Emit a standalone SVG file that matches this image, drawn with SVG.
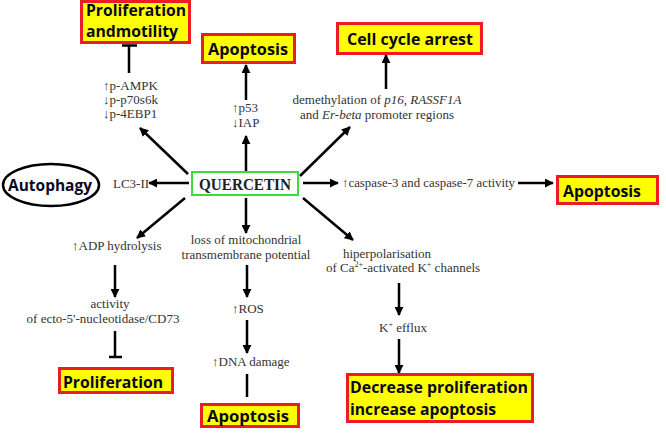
<svg xmlns="http://www.w3.org/2000/svg" width="666" height="433" viewBox="0 0 666 433">
<style>
.box{fill:#FFFF00;stroke:#EC1C24;stroke-width:3}
.bt{font-family:"Open Sans","Liberation Sans",sans-serif;font-weight:bold;font-size:16px;fill:#0a0a1e}
.st{font-family:"Liberation Serif","Times New Roman",serif;font-size:13px;fill:#333}
.ln{stroke:#000;stroke-width:2.5;fill:none}
.ar{stroke:#000;stroke-width:2.5;fill:none;marker-end:url(#ah)}
</style>
<defs>
<marker id="ah" viewBox="0 0 10 10" refX="9" refY="5" markerUnits="userSpaceOnUse" markerWidth="9" markerHeight="9" orient="auto">
<path d="M0,0 L10,5 L0,10 Z" fill="#000"/>
</marker>
</defs>
<rect width="666" height="433" fill="#fff"/>

<g id="connectors">
<line class="ar" x1="188" y1="174" x2="140" y2="128"/>
<line class="ln" x1="129" y1="73" x2="129" y2="46"/>
<line class="ln" x1="122" y1="45.5" x2="137" y2="45.5"/>
<line class="ar" x1="246" y1="171" x2="246" y2="136"/>
<line class="ar" x1="246" y1="100" x2="246" y2="65"/>
<line class="ar" x1="300" y1="176" x2="350" y2="127"/>
<line class="ar" x1="386" y1="89" x2="386" y2="55"/>
<line class="ar" x1="189" y1="183" x2="149" y2="183"/>
<line class="ar" x1="185" y1="198" x2="137" y2="238"/>
<line class="ar" x1="115" y1="265" x2="115" y2="297"/>
<line class="ln" x1="115" y1="331" x2="115" y2="357"/>
<line class="ln" x1="109" y1="357" x2="122" y2="357"/>
<line class="ar" x1="246" y1="198" x2="246" y2="233"/>
<line class="ar" x1="247" y1="265" x2="247" y2="297"/>
<line class="ar" x1="247" y1="320" x2="247" y2="353"/>
<line class="ln" x1="247" y1="374" x2="247" y2="397"/>
<line class="ar" x1="303" y1="183" x2="338" y2="183"/>
<line class="ar" x1="518" y1="183" x2="553" y2="183"/>
<line class="ar" x1="303" y1="198" x2="353" y2="240"/>
<line class="ar" x1="399" y1="283" x2="399" y2="315"/>
<line class="ar" x1="399" y1="339" x2="399" y2="373"/>
</g>

<g id="quercetin">
<rect x="192" y="172" width="106" height="23" fill="#fff" stroke="#3ddc3d" stroke-width="2"/>
<text x="245" y="190" text-anchor="middle" font-family="Liberation Serif,serif" font-weight="bold" font-size="17" fill="#222" textLength="92" lengthAdjust="spacingAndGlyphs">QUERCETIN</text>
</g>

<g id="prolif-motility">
<rect class="box" x="81.5" y="1.5" width="108" height="41"/>
<text class="bt" x="86" y="16" font-size="13" textLength="100" lengthAdjust="spacingAndGlyphs">Proliferation</text>
<text class="bt" x="86" y="37" font-size="13" textLength="92" lengthAdjust="spacingAndGlyphs">andmotility</text>
</g>

<g id="ampk">
<text class="st" x="103" y="90">↑p-AMPK</text>
<text class="st" x="103" y="104">↓p-p70s6k</text>
<text class="st" x="103" y="118">↓p-4EBP1</text>
</g>

<g id="apoptosis-top">
<rect class="box" x="202.5" y="34.5" width="92" height="28"/>
<text class="bt" x="208" y="55" textLength="80" lengthAdjust="spacingAndGlyphs">Apoptosis</text>
</g>

<g id="p53">
<text class="st" x="232" y="112">↑p53</text>
<text class="st" x="232" y="127">↓IAP</text>
</g>

<g id="cell-cycle">
<rect class="box" x="337.5" y="23.5" width="144" height="30"/>
<text class="bt" x="347" y="45" textLength="126" lengthAdjust="spacingAndGlyphs">Cell cycle arrest</text>
</g>

<g id="demethylation">
<text class="st" x="377" y="104" text-anchor="middle">demethylation of <tspan font-style="italic">p16</tspan>, <tspan font-style="italic">RASSF1A</tspan></text>
<text class="st" x="377" y="119" text-anchor="middle">and <tspan font-style="italic">Er-beta</tspan> promoter regions</text>
</g>

<g id="autophagy">
<ellipse cx="51" cy="185" rx="48" ry="21" fill="#fff" stroke="#000" stroke-width="2.5"/>
<text class="bt" x="8" y="191" font-size="18" textLength="84" lengthAdjust="spacingAndGlyphs">Autophagy</text>
</g>

<g id="lc3">
<text class="st" x="113" y="188">LC3-II</text>
</g>

<g id="adp">
<text class="st" x="72" y="250">↑ADP hydrolysis</text>
</g>

<g id="cd73">
<text class="st" x="110" y="308" text-anchor="middle">activity</text>
<text class="st" x="103" y="323" text-anchor="middle">of ecto-5'-nucleotidase/CD73</text>
</g>

<g id="proliferation">
<rect class="box" x="59.5" y="368.5" width="113" height="24"/>
<text class="bt" x="63" y="388" textLength="100" lengthAdjust="spacingAndGlyphs">Proliferation</text>
</g>

<g id="mito">
<text class="st" x="246" y="244" text-anchor="middle">loss of mitochondrial</text>
<text class="st" x="246" y="259" text-anchor="middle">transmembrane potential</text>
</g>

<g id="ros">
<text class="st" x="232" y="313">↑ROS</text>
</g>

<g id="dna">
<text class="st" x="212" y="366">↑DNA damage</text>
</g>

<g id="apoptosis-bottom">
<rect class="box" x="201.5" y="404.5" width="97" height="22"/>
<text class="bt" x="207" y="422" textLength="82" lengthAdjust="spacingAndGlyphs">Apoptosis</text>
</g>

<g id="caspase">
<text class="st" x="342" y="187" textLength="173" lengthAdjust="spacingAndGlyphs">↑caspase-3 and caspase-7 activity</text>
</g>

<g id="apoptosis-right">
<rect class="box" x="557.5" y="176.5" width="100" height="27"/>
<text class="bt" x="563" y="197" textLength="78" lengthAdjust="spacingAndGlyphs">Apoptosis</text>
</g>

<g id="hiper">
<text class="st" x="387" y="258" text-anchor="middle">hiperpolarisation</text>
<text class="st" x="403" y="272" text-anchor="middle">of Ca<tspan font-size="8" dy="-5">2+</tspan><tspan dy="5">-activated K</tspan><tspan font-size="8" dy="-5">+</tspan><tspan dy="5"> channels</tspan></text>
</g>

<g id="efflux">
<text class="st" x="379" y="332">K<tspan font-size="8" dy="-5">+</tspan><tspan dy="5"> efflux</tspan></text>
</g>

<g id="decrease">
<rect class="box" x="347.5" y="374.5" width="185" height="47"/>
<text class="bt" x="350" y="393" textLength="178" lengthAdjust="spacingAndGlyphs">Decrease proliferation</text>
<text class="bt" x="350" y="415" textLength="146" lengthAdjust="spacingAndGlyphs">increase apoptosis</text>
</g>
</svg>
